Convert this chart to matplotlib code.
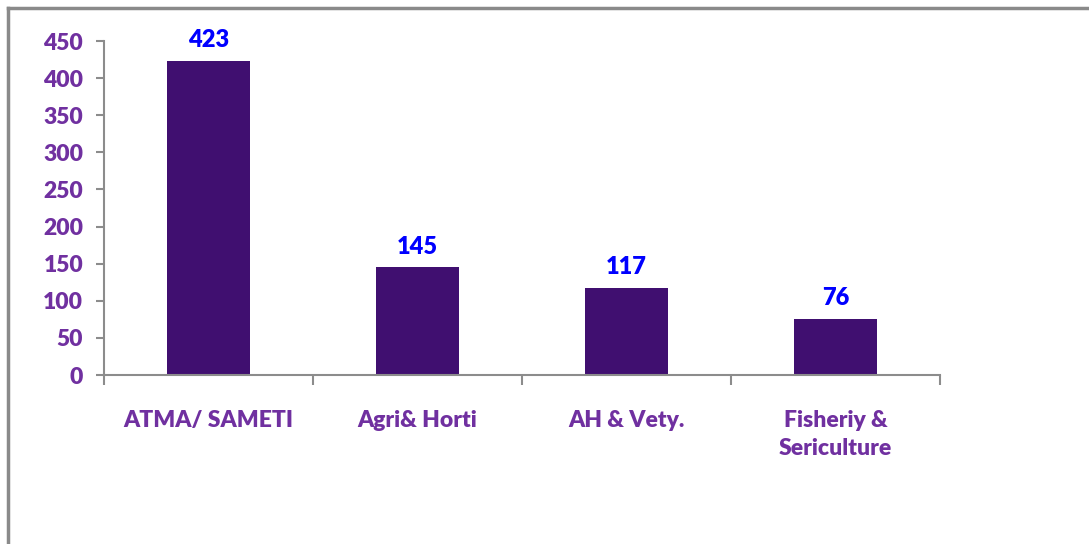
import matplotlib
matplotlib.use("Agg")
import matplotlib.pyplot as plt
from matplotlib.lines import Line2D

categories = ["ATMA/ SAMETI", "Agri& Horti", "AH & Vety.", "Fisheriy &\nSericulture"]
values = [423, 145, 117, 76]
y_ticks = [0, 50, 100, 150, 200, 250, 300, 350, 400, 450]

PURPLE_TEXT = "#7030A0"
BAR_COLOR = "#400f70"
AXIS_GRAY = "#8c8c8c"

plt.rcParams["font.family"] = ["Lato", "DejaVu Sans"]

fig = plt.figure(figsize=(10.89, 5.44), dpi=100, facecolor="white")
ax = fig.add_axes([104 / 1089, 1 - 375 / 544, (940 - 104) / 1089, (375 - 41) / 544])

x_positions = list(range(len(categories)))
ax.bar(x_positions, values, width=0.40, color=BAR_COLOR, zorder=2)

for x, v in zip(x_positions, values):
    ax.annotate(str(v), (x, v), xytext=(0, 7), textcoords="offset points",
                ha="center", va="bottom", color="#0000FF",
                fontsize=17, fontweight="heavy")

ax.set_xlim(-0.5, len(categories) - 0.5)
ax.set_ylim(0, 450)
ax.set_yticks(y_ticks)
ax.set_yticklabels([str(t) for t in y_ticks])

# category boundary ticks (major) and label positions (minor)
ax.set_xticks([i - 0.5 for i in range(len(categories) + 1)])
ax.set_xticklabels([])
ax.set_xticks(x_positions, minor=True)
ax.set_xticklabels(categories, minor=True)

ax.tick_params(axis="x", which="major", length=7, width=1.5, color=AXIS_GRAY, direction="out")
ax.tick_params(axis="x", which="minor", length=0, pad=25, labelsize=16.5, labelcolor=PURPLE_TEXT)
ax.tick_params(axis="y", length=6, width=1.5, color=AXIS_GRAY, direction="out",
               labelsize=16.5, labelcolor=PURPLE_TEXT, pad=9)
for lbl in ax.get_xticklabels(minor=True) + ax.get_yticklabels():
    lbl.set_fontweight("heavy")
for lbl in ax.get_xticklabels(minor=True):
    lbl.set_va("top")
    lbl.set_linespacing(1.42)

for side in ["top", "right"]:
    ax.spines[side].set_visible(False)
for side in ["left", "bottom"]:
    ax.spines[side].set_color(AXIS_GRAY)
    ax.spines[side].set_linewidth(1.5)

# outer chart-area frame (left and top edges visible in the crop)
fig.add_artist(Line2D([8 / 1089, 8 / 1089], [-0.1, 1 - 8 / 544], transform=fig.transFigure,
                      color="#8a8a8a", linewidth=2.5))
fig.add_artist(Line2D([8 / 1089, 1.1], [1 - 8 / 544, 1 - 8 / 544], transform=fig.transFigure,
                      color="#8a8a8a", linewidth=2.5))

fig.savefig("out.png", dpi=100, facecolor="white")
